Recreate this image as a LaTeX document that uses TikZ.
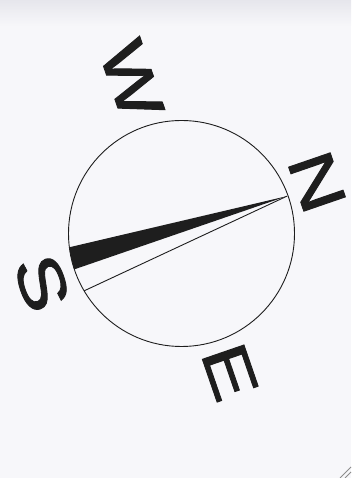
\documentclass[tikz,border=0pt]{standalone}
\usepackage{fontspec}
\setmainfont{Liberation Sans}
\newfontfamily\compassfont{Liberation Sans}[FakeBold=1.3]
\definecolor{bg}{HTML}{F7F7FA}
\definecolor{band}{HTML}{E6E6EC}
\definecolor{ink}{HTML}{1E1E1E}
\begin{document}
\begin{tikzpicture}[x=1pt,y=1pt,
  letter/.style={inner sep=0pt, rotate=-71, xscale=1.3, text=ink,
    font=\compassfont\fontsize{64}{64}\selectfont},
  ring/.style={draw=ink, line width=0.9pt},
  needle/.style={draw=ink, line width=0.9pt},
  artifact/.style={draw=black!45, line width=1pt}]
\useasboundingbox (0,0) rectangle (351,478);
\fill[bg] (0,0) rectangle (351,478);
\shade[top color=band, bottom color=bg] (0,452) rectangle (351,478);
% dial
\node[circle, ring, minimum size=226pt, inner sep=0pt] (dial) at (181.5,244.5) {};
\coordinate (tip) at ([shift={(19.5:112)}]dial.center);
\coordinate (b1) at ([shift={(187:113)}]dial.center);
\coordinate (b2) at ([shift={(198.5:113)}]dial.center);
\coordinate (t2) at ([shift={(210.5:113)}]dial.center);
\fill[ink] (tip) -- (b1) arc[start angle=187, end angle=198.5, radius=113pt] -- cycle;
\draw[needle] (tip) -- (t2);
% letters
\node[letter] (w) at (131.5,398) {W};
\node[letter] (n) at (317,296) {N};
\node[letter] (s) at (42,195) {S};
\node[letter] (e) at (230,106) {E};
% scan artifact
\coordinate (a1) at (340,0);
\coordinate (a2) at (351,11);
\coordinate (a3) at (345,0);
\coordinate (a4) at (351,6);
\draw[artifact] (a1) -- (a2);
\draw[artifact] (a3) -- (a4);
\end{tikzpicture}
\end{document}
